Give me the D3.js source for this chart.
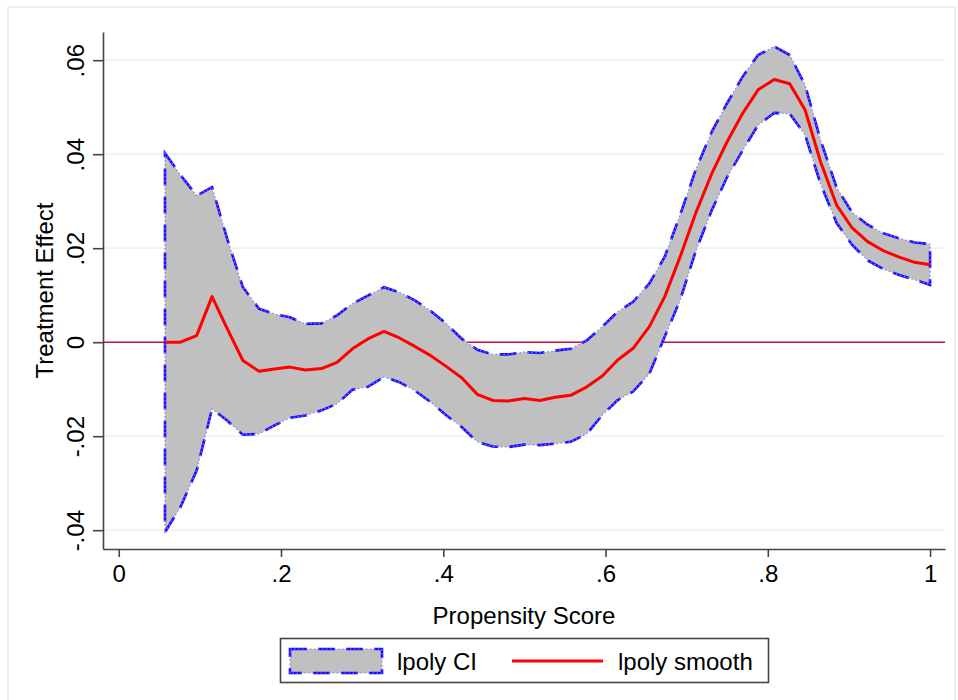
<!DOCTYPE html>
<html>
<head>
<meta charset="utf-8">
<script src="https://cdn.jsdelivr.net/npm/d3@7"></script>
<style>
    body { margin: 0; background: #fff; }
    text { font-family: Arial, "Liberation Sans", sans-serif; fill: #000; }
</style>
</head>
<body>
<svg id="chart" width="958" height="700"></svg>
<script>
// lpoly grid (50 points)
const propScore = [0.057, 0.076, 0.096, 0.115, 0.134, 0.153, 0.173, 0.192, 0.211, 0.230,
    0.250, 0.269, 0.288, 0.307, 0.327, 0.346, 0.365, 0.384, 0.404, 0.423,
    0.442, 0.461, 0.480, 0.500, 0.519, 0.538, 0.557, 0.577, 0.596, 0.615,
    0.634, 0.654, 0.673, 0.692, 0.711, 0.731, 0.750, 0.769, 0.788, 0.808,
    0.827, 0.846, 0.865, 0.885, 0.904, 0.923, 0.942, 0.962, 0.981, 1.000];

const smoothVals = [0.0000, 0.0000, 0.0014, 0.0097, 0.0028, -0.0039, -0.0062, -0.0057, -0.0053, -0.0059,
    -0.0056, -0.0043, -0.0014, 0.0007, 0.0023, 0.0009, -0.0009, -0.0028, -0.0052, -0.0076,
    -0.0111, -0.0124, -0.0125, -0.0120, -0.0124, -0.0117, -0.0113, -0.0095, -0.0072, -0.0038,
    -0.0013, 0.0033, 0.0097, 0.0182, 0.0274, 0.0359, 0.0427, 0.0487, 0.0537, 0.0559,
    0.0550, 0.0494, 0.0384, 0.0291, 0.0243, 0.0214, 0.0195, 0.0181, 0.0170, 0.0165];

const upperCI = [0.0402, 0.0356, 0.0312, 0.0330, 0.0218, 0.0117, 0.0071, 0.0060, 0.0053, 0.0039,
    0.0040, 0.0057, 0.0082, 0.0099, 0.0117, 0.0106, 0.0089, 0.0067, 0.0039, 0.0007,
    -0.0016, -0.0026, -0.0026, -0.0021, -0.0023, -0.0018, -0.0014, 0.0004, 0.0033, 0.0065,
    0.0086, 0.0125, 0.0182, 0.0271, 0.0366, 0.0448, 0.0509, 0.0565, 0.0611, 0.0629,
    0.0611, 0.0547, 0.0430, 0.0328, 0.0276, 0.0250, 0.0232, 0.0221, 0.0212, 0.0209];

const lowerCI = [-0.0404, -0.0351, -0.0273, -0.0142, -0.0167, -0.0197, -0.0195, -0.0177, -0.0161, -0.0156,
    -0.0145, -0.0131, -0.0101, -0.0095, -0.0074, -0.0085, -0.0103, -0.0127, -0.0156, -0.0181,
    -0.0212, -0.0222, -0.0223, -0.0218, -0.0219, -0.0216, -0.0212, -0.0195, -0.0155, -0.0123,
    -0.0105, -0.0067, 0.0012, 0.0090, 0.0193, 0.0281, 0.0352, 0.0408, 0.0462, 0.0488,
    0.0486, 0.0441, 0.0337, 0.0253, 0.0207, 0.0174, 0.0156, 0.0143, 0.0133, 0.0122];

const xTicks = [0, 0.2, 0.4, 0.6, 0.8, 1];
const xTickLabels = ["0", ".2", ".4", ".6", ".8", "1"];
const yTicks = [-0.04, -0.02, 0, 0.02, 0.04, 0.06];
const yTickLabels = ["-.04", "-.02", "0", ".02", ".04", ".06"];
const legendLabels = ["lpoly CI", "lpoly smooth"];

const ciBlue = "#1a0aff";
const smoothRed = "#ff0000";
const ciGray = "#c0c0c0";

// plot region (stata pads the axes a bit past the ticks)
const plot = {left: 103, right: 945, top: 32, bottom: 549};

// stata's dash-dot outline: faint dotted line under long blue dashes
const dashDotStroke = (sel) => {
    sel.clone()
        .attr("fill", "none")
        .attr("stroke", "#7f7fff")
        .attr("stroke-width", 1.2)
        .attr("stroke-dasharray", "1.5,2.5");
    sel.attr("stroke", ciBlue)
        .attr("stroke-width", 2.6)
        .attr("stroke-dasharray", "17,11");
};

const main = () => {
    const svg = d3.select("#chart");

    const x = d3.scaleLinear().domain([-0.0194, 1.0184]).range([plot.left, plot.right]);
    const y = d3.scaleLinear().domain([-0.044, 0.066]).range([plot.bottom, plot.top]);

    const pts = propScore.map((p, i) => ({x: p, s: smoothVals[i], lo: lowerCI[i], hi: upperCI[i]}));

    // outer graph frame
    svg.append("rect")
        .attr("x", 8).attr("y", 7)
        .attr("width", 947).attr("height", 720)
        .attr("fill", "#fff")
        .attr("stroke", "#e3ebed")
        .attr("stroke-width", 1.5);

    // grid
    svg.append("g")
        .selectAll("line")
        .data(yTicks.filter(d => d !== 0))
        .join("line")
        .attr("x1", plot.left).attr("x2", plot.right)
        .attr("y1", d => y(d)).attr("y2", d => y(d))
        .attr("stroke", "#eaf2f3")
        .attr("stroke-width", 1.5);

    // yline(0)
    svg.append("line")
        .attr("x1", plot.left).attr("x2", plot.right)
        .attr("y1", y(0)).attr("y2", y(0))
        .attr("stroke", "#c8103a")
        .attr("stroke-width", 1.6);

    // CI band
    const area = d3.area()
        .x(d => x(d.x))
        .y0(d => y(d.lo))
        .y1(d => y(d.hi));

    svg.append("path")
        .datum(pts)
        .attr("d", area)
        .attr("fill", ciGray);

    // outline of the band, closed like stata's rarea
    const outline = pts.map(d => [x(d.x), y(d.hi)])
        .concat(pts.slice().reverse().map(d => [x(d.x), y(d.lo)]));

    svg.append("path")
        .attr("d", d3.line()(outline) + "Z")
        .attr("fill", "none")
        .call(dashDotStroke);

    svg.append("path")
        .datum(pts)
        .attr("d", d3.line().x(d => x(d.x)).y(d => y(d.s)))
        .attr("fill", "none")
        .attr("stroke", smoothRed)
        .attr("stroke-width", 3)
        .attr("stroke-linejoin", "round");

    // axes
    const xAxis = svg.append("g")
        .attr("transform", `translate(0,${plot.bottom})`)
        .call(d3.axisBottom(x)
            .tickValues(xTicks)
            .tickFormat((d, i) => xTickLabels[i])
            .tickSizeInner(8)
            .tickSizeOuter(0)
            .tickPadding(8));

    const yAxis = svg.append("g")
        .attr("transform", `translate(${plot.left},0)`)
        .call(d3.axisLeft(y)
            .tickValues(yTicks)
            .tickFormat((d, i) => yTickLabels[i])
            .tickSizeInner(10)
            .tickSizeOuter(0));

    [xAxis, yAxis].forEach(g => {
        g.select(".domain").attr("stroke", "#444").attr("stroke-width", 1.6);
        g.selectAll(".tick line").attr("stroke", "#444").attr("stroke-width", 1.6);
        g.selectAll("text").attr("font-size", 24).attr("fill", "#000")
            .style("font-family", 'Arial, "Liberation Sans", sans-serif');
    });

    yAxis.selectAll(".tick text")
        .attr("transform", "rotate(-90)")
        .attr("x", 0)
        .attr("y", -19)
        .attr("dy", 0)
        .attr("text-anchor", "middle");

    // axis titles
    svg.append("text")
        .attr("x", (plot.left + plot.right) / 2)
        .attr("y", 624)
        .attr("text-anchor", "middle")
        .attr("font-size", 24)
        .text("Propensity Score");

    svg.append("text")
        .attr("transform", `translate(53,${(plot.top + plot.bottom) / 2}) rotate(-90)`)
        .attr("text-anchor", "middle")
        .attr("font-size", 24)
        .text("Treatment Effect");

    // legend
    const leg = svg.append("g");
    leg.append("rect")
        .attr("x", 280.5).attr("y", 638.5)
        .attr("width", 488).attr("height", 44)
        .attr("fill", "#fff")
        .attr("stroke", "#444")
        .attr("stroke-width", 1.6);

    leg.append("rect")
        .attr("x", 290).attr("y", 649)
        .attr("width", 92).attr("height", 24)
        .attr("fill", ciGray);

    leg.append("rect")
        .attr("x", 290).attr("y", 649)
        .attr("width", 92).attr("height", 24)
        .attr("fill", "none")
        .call(dashDotStroke);

    leg.append("text")
        .attr("x", 397).attr("y", 670)
        .attr("font-size", 24)
        .text(legendLabels[0]);

    leg.append("line")
        .attr("x1", 512).attr("x2", 603)
        .attr("y1", 661).attr("y2", 661)
        .attr("stroke", smoothRed)
        .attr("stroke-width", 3);

    leg.append("text")
        .attr("x", 618).attr("y", 670)
        .attr("font-size", 24)
        .text(legendLabels[1]);
};

main();
</script>
</body>
</html>
